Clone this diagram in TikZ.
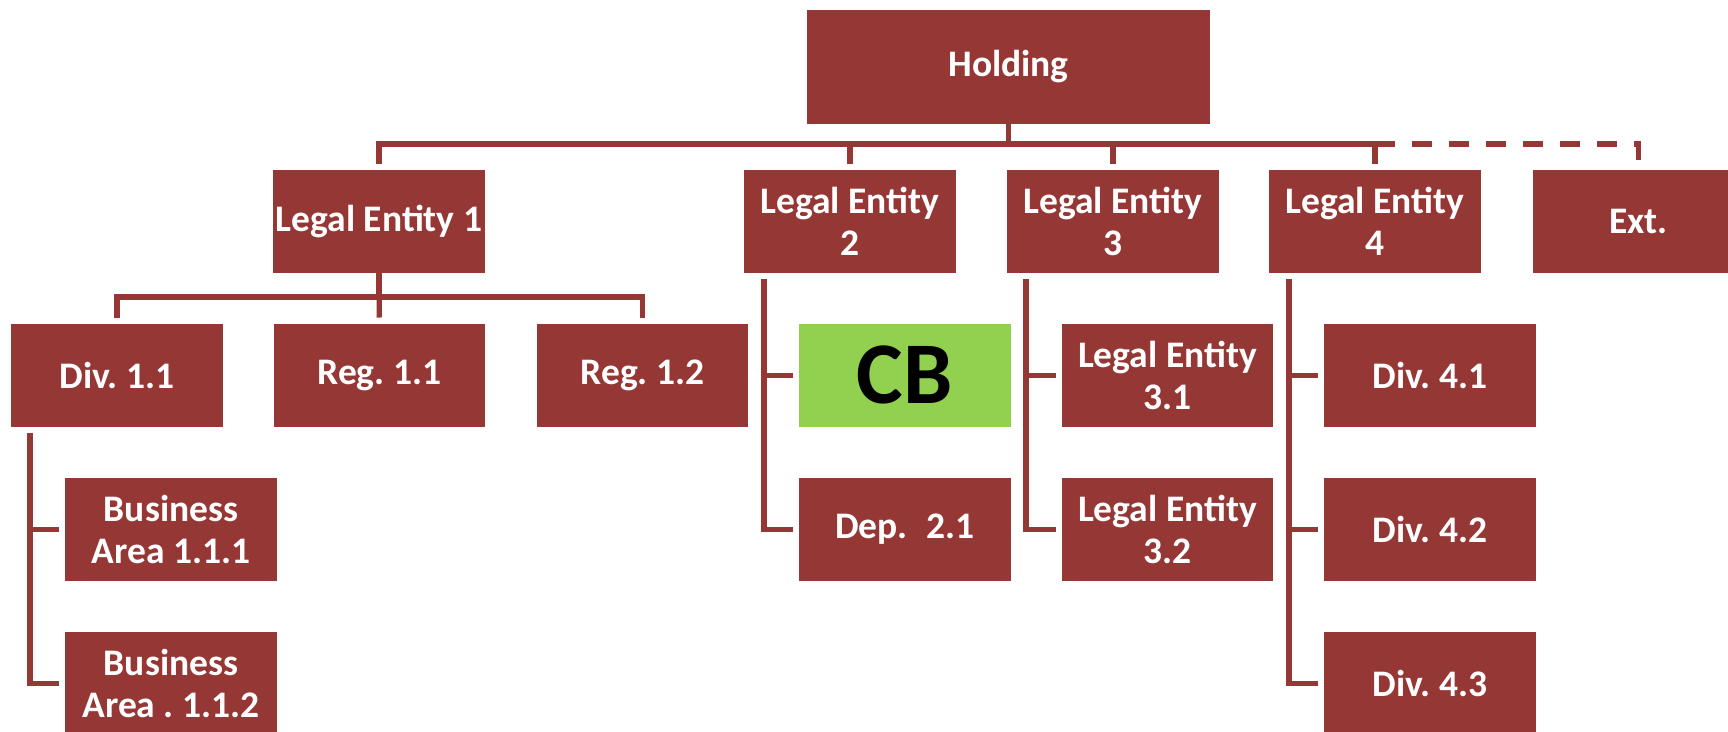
\documentclass[tikz,border=0pt]{standalone}
\usepackage{fontspec}
\setmainfont{Carlito}
\usetikzlibrary{calc}
\definecolor{maroon}{HTML}{953735}
\definecolor{leaf}{HTML}{92D050}
\frenchspacing
\begin{document}
\begin{tikzpicture}[x=1pt,y=-1pt,
  unit/.style={rectangle, fill=maroon, text=white, inner sep=0pt, align=center,
    font=\fontsize{37.5}{42}\selectfont\bfseries,
    minimum width=211.5pt, minimum height=103pt},
  conn/.style={draw=maroon, line width=5.3pt},
  gapend/.style={shorten >=6pt},
  gapboth/.style={shorten <=6pt, shorten >=6pt}]
\useasboundingbox (0,0) rectangle (1728,731);
\clip (0,0) rectangle (1728,731);

% top level
\node[unit, minimum width=403pt, minimum height=114pt] (hold) at (1008.5,67) {Holding};

% legal entities
\node[unit] (le1) at (379,221.5) {Legal Entity 1};
\node[unit] (le2) at (850,221.5) {Legal Entity\\2};
\node[unit] (le3) at (1113,221.5) {Legal Entity\\3};
\node[unit] (le4) at (1375,221.5) {Legal Entity\\4};
\node[unit] (ext) at (1638.5,221.5) {Ext.};

% third row
\node[unit] (div11) at (117,375.2) {Div. 1.1};
\node[unit] (reg11) at (379.3,375.2) {Reg. 1.1};
\node[unit] (reg12) at (642.5,375.2) {Reg. 1.2};
\node[unit, fill=leaf, text=black, font=\fontsize{88}{96}\selectfont\bfseries] (cb) at (904.8,375.2) {CB};
\node[unit] (le31) at (1167.5,375.2) {Legal Entity\\3.1};
\node[unit] (div41) at (1430,375.2) {Div. 4.1};

% fourth row
\node[unit] (ba111) at (171,529.2) {Business\\Area 1.1.1};
\node[unit] (dep21) at (904.8,529.2) {Dep.\hspace{0.5em}2.1};
\node[unit] (le32) at (1167.5,529.2) {Legal Entity\\3.2};
\node[unit] (div42) at (1430,529.2) {Div. 4.2};

% fifth row
\node[unit] (ba112) at (171,683.5) {Business\\Area . 1.1.2};
\node[unit] (div43) at (1430,683.5) {Div. 4.3};

% bus under the holding
\coordinate (bus) at (0,144);
\foreach \n in {le1,le2,le3,le4}
  \draw[conn,gapend] (hold.south) -- (hold.south |- bus) -| (\n.north);
\draw[conn,gapend,dash pattern=on 20pt off 17pt] (le4.north |- bus) -| (ext.north);

% bus under legal entity 1
\coordinate (bus1) at (0,297);
\draw[conn,gapend] (le1.south) -- (le1.south |- bus1) -| (div11.north);
\draw[conn,gapend] (le1.south) -- (le1.south |- bus1) -| (reg12.north);
\draw[conn,gapend] (le1.south) -- (reg11.north);

% side branches
\draw[conn,gapboth] ($(div11.south west)+(19,0)$) |- (ba111.west);
\draw[conn,gapboth] ($(div11.south west)+(19,0)$) |- (ba112.west);
\draw[conn,gapboth] ($(le2.south west)+(20,0)$) |- (cb.west);
\draw[conn,gapboth] ($(le2.south west)+(20,0)$) |- (dep21.west);
\draw[conn,gapboth] ($(le3.south west)+(19,0)$) |- (le31.west);
\draw[conn,gapboth] ($(le3.south west)+(19,0)$) |- (le32.west);
\draw[conn,gapboth] ($(le4.south west)+(20,0)$) |- (div41.west);
\draw[conn,gapboth] ($(le4.south west)+(20,0)$) |- (div42.west);
\draw[conn,gapboth] ($(le4.south west)+(20,0)$) |- (div43.west);
\end{tikzpicture}
\end{document}
